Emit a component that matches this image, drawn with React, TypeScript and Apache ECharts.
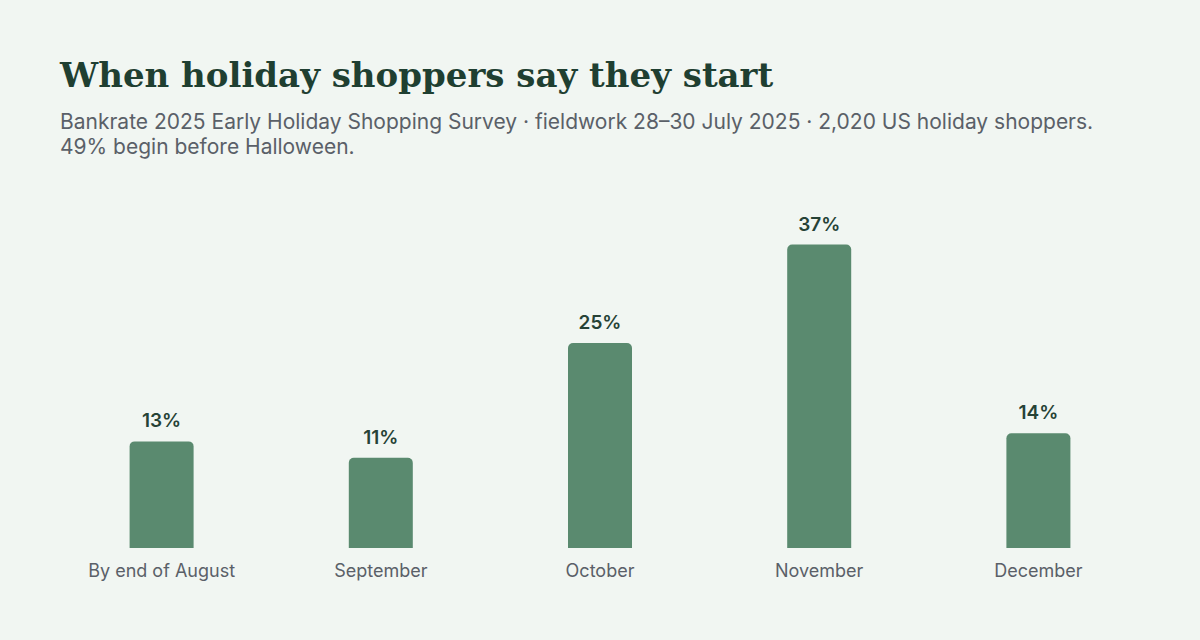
import * as echarts from "echarts"
import { useEffect, useRef } from "react"

const categories = ["By end of August", "September", "October", "November", "December"]
const shares = [13, 11, 25, 37, 14]

const TITLE = "When holiday shoppers say they start"
const SUBTITLE =
  "Bankrate 2025 Early Holiday Shopping Survey · fieldwork 28–30 July 2025 · 2,020 US holiday shoppers.\n49% begin before Halloween."

export default function App() {
  const ref = useRef<HTMLDivElement>(null)

  useEffect(() => {
    if (!ref.current) return
    const chart = echarts.init(ref.current, null, { renderer: "svg" })

    chart.setOption({
      animation: false,
      backgroundColor: "#f1f6f2",
      textStyle: { fontFamily: "Inter, sans-serif" },
      title: {
        left: 55,
        top: 53,
        text: TITLE,
        textStyle: {
          fontFamily: "'DejaVu Serif', serif",
          fontWeight: "bold",
          fontSize: 34,
          color: "#1f3f31",
        },
        subtext: SUBTITLE,
        subtextStyle: {
          fontFamily: "Inter, sans-serif",
          fontSize: 21,
          lineHeight: 25,
          color: "#5a6068",
        },
        itemGap: 17,
      },
      grid: { left: 52, right: 52, top: 220, bottom: 92, containLabel: false },
      xAxis: {
        type: "category",
        data: categories,
        axisLine: { show: false },
        axisTick: { show: false },
        axisLabel: { color: "#5a6068", fontSize: 18, margin: 13 },
      },
      yAxis: {
        type: "value",
        min: 0,
        max: 40,
        show: false,
        splitLine: { show: false },
      },
      series: [
        {
          type: "bar",
          data: shares,
          barWidth: 64,
          itemStyle: { color: "#5a8a6f", borderRadius: [5, 5, 0, 0] },
          label: {
            show: true,
            position: "top",
            distance: 11,
            formatter: "{c}%",
            fontSize: 19,
            fontWeight: 600,
            color: "#264236",
          },
        },
      ],
    })

    return () => chart.dispose()
  }, [])

  return <div ref={ref} style={{ position: "fixed", left: 0, top: 0, width: 1200, height: 640 }} />
}
